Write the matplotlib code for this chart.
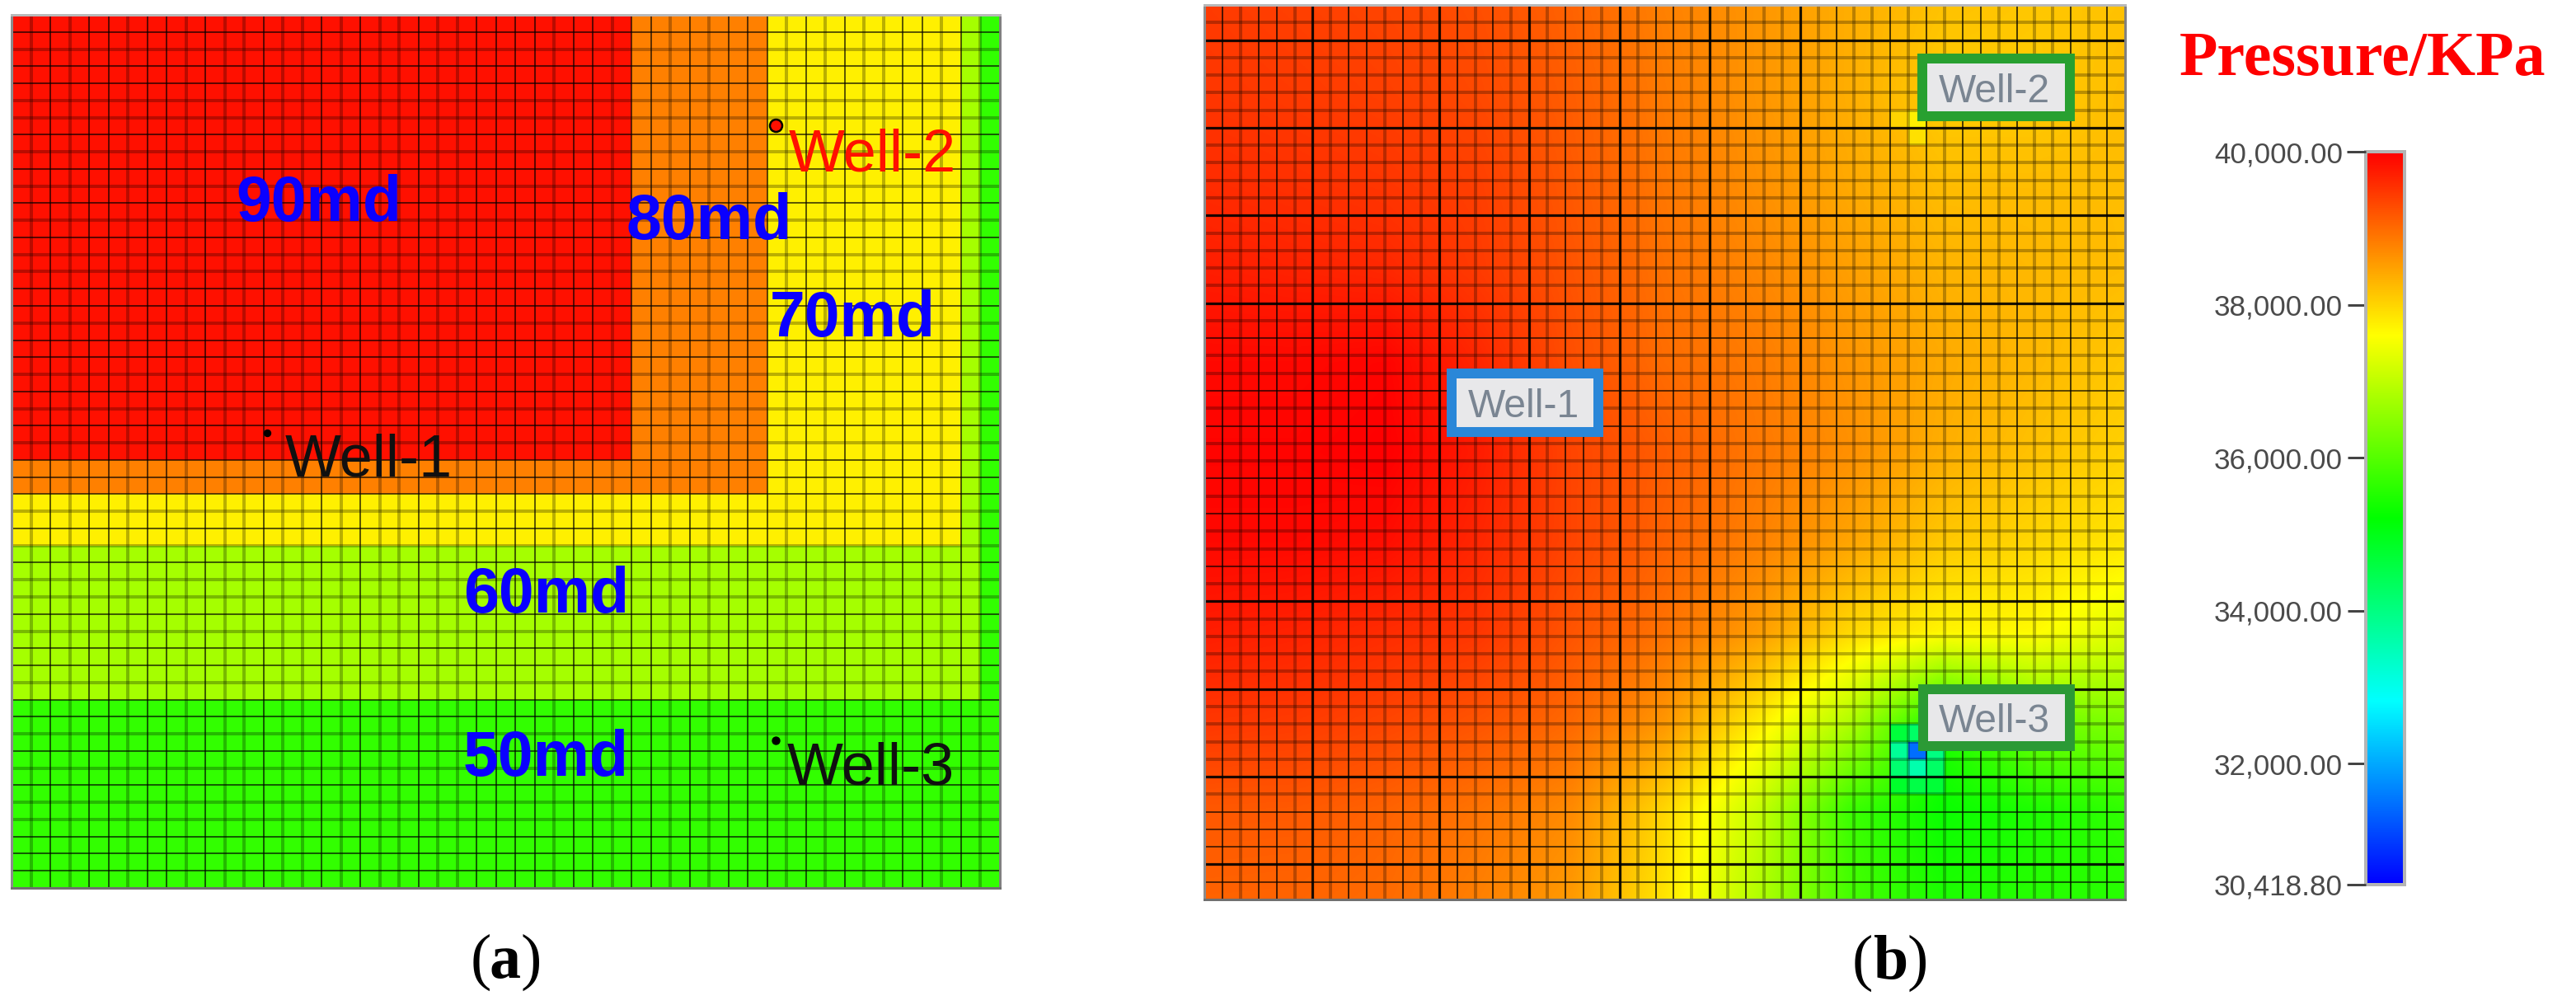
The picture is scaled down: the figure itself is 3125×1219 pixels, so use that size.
import numpy as np
import matplotlib
matplotlib.use("Agg")
import matplotlib.pyplot as plt
from matplotlib.colors import ListedColormap, BoundaryNorm, LinearSegmentedColormap, Normalize
from matplotlib.cm import ScalarMappable
from matplotlib.patches import Rectangle

# ---------- data: panel (a), permeability zones (md) ----------
N_CELLS = 51
perm_levels = [50, 60, 70, 80, 90]
perm_colors = ['#32ff00', '#a5ff00', '#fff000', '#ff8000', '#ff1000']
zone_perm = [60, 70, 80, 90]
zone_col_end = [50, 49, 39, 32]
zone_row_end = [40, 31, 28, 26]
perm_labels = ['90md', '80md', '70md', '60md', '50md']
well_names = ['Well-1', 'Well-2', 'Well-3']
well_cols = [13.2, 39.45, 39.45]
well_rows = [24.4, 6.45, 42.4]

# ---------- data: panel (b), pressure read at coarse grid nodes (KPa) ----------
pressure_nodes = [
    [39440, 39390, 39340, 39250, 39060, 38780, 38590, 38360, 38170, 38120, 38170],
    [39480, 39440, 39390, 39300, 39110, 38830, 38590, 38360, 38080, 38080, 38220],
    [39580, 39530, 39480, 39390, 39150, 38870, 38640, 38400, 38220, 38220, 38220],
    [39720, 39670, 39620, 39440, 39200, 38920, 38730, 38500, 38310, 38260, 38220],
    [39910, 39910, 39950, 39620, 39250, 38970, 38830, 38590, 38400, 38260, 38120],
    [39950, 39950, 40000, 39720, 39340, 39110, 38870, 38640, 38360, 38170, 38030],
    [39910, 39910, 39860, 39620, 39340, 39060, 38780, 38450, 38120, 37980, 37840],
    [39720, 39670, 39580, 39480, 39200, 38920, 38540, 37980, 37700, 37650, 37300],
    [39480, 39440, 39340, 39200, 39010, 38590, 37800, 36900, 35500, 36300, 36400],
    [39160, 39150, 39060, 38900, 38690, 37980, 37100, 35780, 35300, 35480, 35660],
    [39060, 39050, 38980, 38780, 38540, 37840, 36900, 35870, 35480, 35570, 35570],
]
# cells near the producing wells, read individually
near_well_cols = [39, 38, 39, 38, 40, 40, 39, 38, 39, 38, 40, 39, 39, 38]
near_well_rows = [42, 42, 43, 43, 43, 42, 41, 41, 44, 44, 44, 6, 7, 6]
near_well_vals = [31450, 33800, 33600, 34170, 34270, 34000, 34270, 34650, 34550,
                  34800, 34700, 37750, 37900, 38000]
cbar_min, cbar_max = 30418.8, 40000.0
cbar_right_ticks = [38000, 36000, 34000, 32000]
cbar_left_ticks = [40000.0, 30418.8]
cbar_title = 'Pressure/KPa'

# ---------- styling of the mesh lines ----------
a_faded_v = [1, 3, 6, 9, 11, 12, 14, 15, 17, 19, 20, 22, 23, 28, 31, 34, 36, 40, 42, 44, 45, 48, 50]
a_faded_h = [2, 5, 6, 8, 10, 12, 14, 15, 18, 21, 23, 25, 29, 31, 33, 34, 36, 39, 42, 44, 46, 47]
b_major_v = [6, 13, 18, 23, 28, 33]
b_faded_v = [2, 5, 7, 10, 12, 15, 17, 19, 22, 24, 27, 29, 31, 32, 34, 36, 37, 39, 41, 44, 46, 47, 49]
b_major_h = [2, 7, 12, 17, 34, 39, 44, 49]
b_sharp_h = [19, 22, 24, 27, 29, 32, 46, 47, 48, 50]

W, H, DPI = 3125, 1219, 100
px = 72.0 / DPI
plt.rcParams['font.family'] = ['Liberation Sans', 'DejaVu Sans']
fig = plt.figure(figsize=(W / DPI, H / DPI), dpi=DPI, facecolor='white')


def axes_px(l, t, r, b):
    return fig.add_axes([l / W, 1 - b / H, (r - l) / W, (b - t) / H])


def mesh_lines(ax, faded, major=(), sharp=None, vertical=True, sharp_lw=1.8):
    draw = ax.vlines if vertical else ax.hlines
    for i in range(1, N_CELLS):
        if i in major:
            draw(i, 0, N_CELLS, color='black', lw=3.2 * px, alpha=0.9, zorder=5)
        elif (sharp is not None and i not in sharp) or (sharp is None and i in faded):
            draw(i, 0, N_CELLS, color='black', lw=4.0 * px, alpha=0.27, zorder=3)
        else:
            draw(i, 0, N_CELLS, color='black', lw=sharp_lw * px, alpha=0.7, zorder=4)


def frame(ax):
    ax.set_xticks([])
    ax.set_yticks([])
    for side, colr in zip(['top', 'left', 'right', 'bottom'],
                          ['#b8b8b8', '#8c8c8c', '#808080', '#707070']):
        ax.spines[side].set_color(colr)
        ax.spines[side].set_linewidth(3 * px)
        ax.spines[side].set_zorder(8)


# ---------- panel (a) ----------
ax_a = axes_px(14, 18, 1213, 1077)
perm = np.full((N_CELLS, N_CELLS), perm_levels[0], dtype=float)
for value, c_end, r_end in zip(zone_perm, zone_col_end, zone_row_end):
    perm[:r_end, :c_end] = value
edges = [l - 5 for l in perm_levels] + [perm_levels[-1] + 5]
ax_a.pcolormesh(np.arange(N_CELLS + 1), np.arange(N_CELLS + 1), perm,
                cmap=ListedColormap(perm_colors), norm=BoundaryNorm(edges, len(perm_colors)),
                zorder=1)
mesh_lines(ax_a, a_faded_v, vertical=True)
mesh_lines(ax_a, a_faded_h, vertical=False)
ax_a.set_xlim(0, N_CELLS)
ax_a.set_ylim(N_CELLS, 0)
frame(ax_a)
ax_a.scatter(well_cols[0], well_rows[0], s=(8 * px) ** 2, c='black', zorder=6)
ax_a.scatter(well_cols[1], well_rows[1], s=(15 * px) ** 2, c='#ff1000', edgecolors='black',
             linewidths=2.5 * px, zorder=6)
ax_a.scatter(well_cols[2], well_rows[2], s=(9 * px) ** 2, c='black', zorder=6)

# ---------- panel (b) ----------
cmap_p = LinearSegmentedColormap.from_list(
    'pressure', ['#0000ff', '#00ffff', '#00ff00', '#ffff00', '#ff0000'], N=512)
norm_p = Normalize(cbar_min, cbar_max)
ax_b = axes_px(1461, 6, 2578, 1091)
nodes = np.array(pressure_nodes, dtype=float)
half = N_CELLS / (nodes.shape[0] - 1) / 2
ax_b.imshow(nodes, cmap=cmap_p, norm=norm_p, aspect='auto', interpolation='bilinear',
            interpolation_stage='data',
            extent=(-half, N_CELLS + half, N_CELLS + half, -half), zorder=1)
well_grid = np.full((N_CELLS, N_CELLS), np.nan)
well_grid[near_well_rows, near_well_cols] = near_well_vals
ax_b.pcolormesh(np.arange(N_CELLS + 1), np.arange(N_CELLS + 1),
                np.ma.masked_invalid(well_grid), cmap=cmap_p, norm=norm_p, zorder=2)
mesh_lines(ax_b, b_faded_v, major=b_major_v, vertical=True, sharp_lw=2.0)
b_sharp_all = set(b_sharp_h)
mesh_lines(ax_b, [], major=b_major_h, sharp=b_sharp_all, vertical=False, sharp_lw=1.8)
ax_b.set_xlim(0, N_CELLS)
ax_b.set_ylim(N_CELLS, 0)
frame(ax_b)

# ---------- colour bar ----------
cax = axes_px(2870, 184, 2917, 1073)
cb = fig.colorbar(ScalarMappable(norm=norm_p, cmap=cmap_p), cax=cax)
cb.outline.set_edgecolor('#b4b4b4')
cb.outline.set_linewidth(4 * px)
cb.set_ticks(cbar_right_ticks)
cb.set_ticklabels([f'{v:,.2f}' for v in cbar_right_ticks])
cax.tick_params(axis='y', which='both', length=22 * px, width=3 * px, color='#444444',
                labelcolor='#4a4a4a', labelsize=35 * px, pad=6 * px, right=True, left=False)
cax.minorticks_off()
cax2 = cax.twinx()
cax2.set_ylim(cbar_min, cbar_max)
cax2.yaxis.tick_left()
cax2.set_yticks(cbar_left_ticks)
cax2.set_yticklabels([f'{v:,.2f}' for v in cbar_left_ticks])
cax2.tick_params(axis='y', length=23 * px, width=3 * px, color='#444444',
                 labelcolor='#4a4a4a', labelsize=35 * px, pad=5 * px)
for s in cax2.spines.values():
    s.set_visible(False)

# ---------- overlay in image pixels for labels ----------
ov = fig.add_axes([0, 0, 1, 1], facecolor='none')
ov.set_xlim(0, W)
ov.set_ylim(H, 0)
ov.axis('off')


def label(x, y, s, size, color='black', weight='normal', family='Liberation Sans', ha='left'):
    ov.text(x, y, s, fontsize=size * px, color=color, fontweight=weight, family=family,
            ha=ha, va='baseline', zorder=20)


# permeability labels
for s, x, y in zip(perm_labels, [286, 760, 934, 562, 562], [268, 290, 408, 743, 941]):
    label(x, y, s, 77, color='#0a00ff', weight='bold')
# panel (a) well labels
for s, x, y, c in zip(well_names, [346, 957, 955], [578, 207, 952], ['#101010', '#ff1000', '#101010']):
    label(x, y, s, 72, color=c)

# panel (b) well boxes
boxes = [(1755, 447, 1945, 530, 12, '#2a87d8', 1781, 506),
         (2326, 65, 2517, 147, 12, '#28a030', 2352, 124),
         (2327, 830, 2517, 911, 12, '#2b9a35', 2352, 888)]
for name, (x0, y0, x1, y1, bw, col, tx, ty) in zip(well_names, boxes):
    ov.add_patch(Rectangle((x0, y0), x1 - x0, y1 - y0, fc=col, ec='none', zorder=15))
    ov.add_patch(Rectangle((x0 + bw, y0 + bw), x1 - x0 - 2 * bw, y1 - y0 - 2 * bw,
                           fc='#e8e8ea', ec='none', zorder=16))
    label(tx, ty, name, 48, color='#7a8592')

# colour-bar title
label(2644, 91, cbar_title, 76, color='#ff0000', weight='bold', family='Liberation Serif')

# panel captions: upright brackets, bold letter
for x_open, x_letter, x_close, base, letter in [(571, 594, 632, 1186, 'a'), (2247, 2272, 2314, 1187, 'b')]:
    label(x_open, base, '(', 76, family='Liberation Serif')
    label(x_letter, base, letter, 76, weight='bold', family='Liberation Serif')
    label(x_close, base, ')', 76, family='Liberation Serif')

fig.savefig('out.png', dpi=DPI, facecolor='white')
